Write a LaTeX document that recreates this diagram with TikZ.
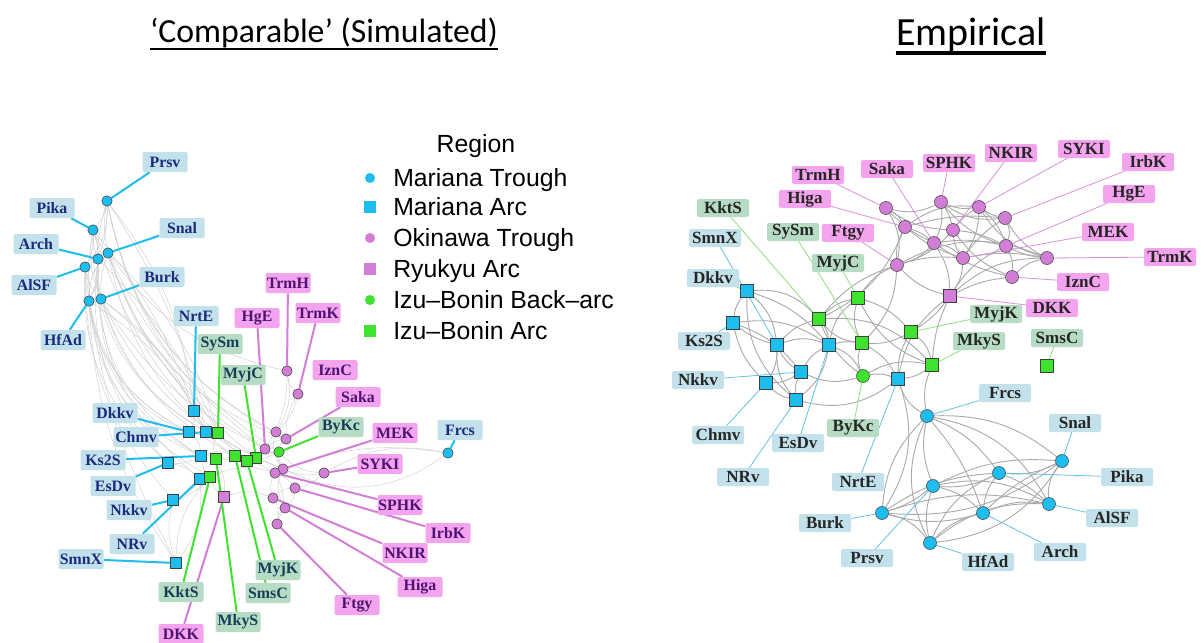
\documentclass[tikz,border=0pt]{standalone}
\usepackage{fontspec}
\setmainfont{Liberation Serif}
\newfontfamily\legendfont{Liberation Sans}
\newfontfamily\titlefont{Carlito}
\usetikzlibrary{backgrounds,calc}

\definecolor{mtcyan}{HTML}{1DBDF0}
\definecolor{okpink}{HTML}{D27ED6}
\definecolor{ibgreen}{HTML}{3FE22F}
\definecolor{mtlabfill}{HTML}{C3E1EB}
\definecolor{oklabfill}{HTML}{F4A4EE}
\definecolor{iblabfill}{HTML}{B6DCC4}
\definecolor{mttext}{HTML}{1B2B7E}
\definecolor{oktext}{HTML}{4D1273}
\definecolor{ibtext}{HTML}{173E57}
\definecolor{emptext}{HTML}{262626}
\definecolor{simedgecol}{HTML}{CFCFCF}
\definecolor{empedgecol}{HTML}{ABABAB}
\definecolor{mtlink}{HTML}{62C3E3}
\definecolor{oklink}{HTML}{D790D9}
\definecolor{iblink}{HTML}{8CE07A}

\tikzset{
  trough/.style={circle, draw=black!75, line width=0.4pt, inner sep=0pt, minimum size=#1},
  trough/.default=7.8pt,
  arcsq/.style={rectangle, draw=black!75, line width=0.4pt, inner sep=0pt, minimum size=#1},
  arcsq/.default=8.25pt,
  lbl/.style={rounded corners=1.5pt, inner sep=0pt, font=\bfseries\fontsize{11.9}{13}\selectfont,
    minimum width=33.75pt, minimum height=15pt},
  mtlbl/.style={lbl, fill=mtlabfill, text=mttext},
  oklbl/.style={lbl, fill=oklabfill, text=oktext},
  iblbl/.style={lbl, fill=iblabfill, text=ibtext},
  elbl/.style={lbl, font=\bfseries\fontsize{12.8}{14}\selectfont, minimum width=39pt,
    minimum height=13.5pt, text=emptext},
  simedge/.style={draw=simedgecol, line width=0.35pt},
  empedge/.style={draw=empedgecol, line width=0.7pt},
  simlink/.style={line width=1.5pt},
  emplink/.style={line width=0.6pt},
  legtext/.style={anchor=west, inner sep=0pt, font=\legendfont\fontsize{18.6}{22}\selectfont,
    text height=13.3pt, text depth=0pt},
}

\begin{document}
\begin{tikzpicture}[x=0.75pt,y=0.75pt,yscale=-1,xscale=1]
\useasboundingbox (0,0) rectangle (1204,643);

% titles
\node[anchor=base, inner sep=0pt, font=\titlefont\fontsize{25.3}{30}\selectfont] (ttlSim) at (324,42) {‘Comparable’ (Simulated)};
\draw[line width=2.2pt] ($(ttlSim.base west)+(0,7)$) -- ($(ttlSim.base east)+(0,7)$);
\node[anchor=base, inner sep=0pt, font=\titlefont\fontsize{30}{34}\selectfont] (ttlEmp) at (971,45) {Empirical};
\draw[line width=2.4pt] ($(ttlEmp.base west)+(0,8)$) -- ($(ttlEmp.base east)+(0,8)$);

% legend
\node[inner sep=0pt, font=\legendfont\fontsize{18.6}{22}\selectfont] (legTitle) at (476,146) {Region};
\node[circle, fill=mtcyan, inner sep=0pt, minimum size=7.5pt] (legMT) at (370,178) {};
\node[rectangle, fill=mtcyan, inner sep=0pt, minimum size=9.5pt] (legMA) at (370,207) {};
\node[circle, fill=okpink, inner sep=0pt, minimum size=7.5pt] (legOT) at (370,238) {};
\node[rectangle, fill=okpink, inner sep=0pt, minimum size=9.5pt] (legRA) at (370,269) {};
\node[circle, fill=ibgreen, inner sep=0pt, minimum size=7.5pt] (legIBB) at (370,300) {};
\node[rectangle, fill=ibgreen, inner sep=0pt, minimum size=9.5pt] (legIBA) at (370,331) {};
\node[legtext] (legMTt) at (393,178) {Mariana Trough};
\node[legtext] (legMAt) at (393,207) {Mariana Arc};
\node[legtext] (legOTt) at (393,238) {Okinawa Trough};
\node[legtext] (legRAt) at (393,269) {Ryukyu Arc};
\node[legtext] (legIBBt) at (393,300) {Izu–Bonin Back–arc};
\node[legtext] (legIBAt) at (393,331) {Izu–Bonin Arc};

% simulated network
\node[trough, fill=mtcyan] (sPrsv) at (107,201) {};
\node[trough, fill=mtcyan] (sPika) at (93,230) {};
\node[trough, fill=mtcyan] (sSnal) at (108,253) {};
\node[trough, fill=mtcyan] (sArch) at (98,259) {};
\node[trough, fill=mtcyan] (sAlSF) at (85,267) {};
\node[trough, fill=mtcyan] (sBurk) at (101,299) {};
\node[trough, fill=mtcyan] (sHfAd) at (89,301) {};
\node[trough, fill=mtcyan] (sFrcs) at (448,453) {};
\node[arcsq, fill=mtcyan] (sNrtE) at (194,411) {};
\node[arcsq, fill=mtcyan] (sDkkv) at (189,432) {};
\node[arcsq, fill=mtcyan] (sChmv) at (206,432) {};
\node[arcsq, fill=mtcyan] (sKs2S) at (201,456) {};
\node[arcsq, fill=mtcyan] (sEsDv) at (168,463) {};
\node[arcsq, fill=mtcyan] (sNRv) at (200,479) {};
\node[arcsq, fill=mtcyan] (sNkkv) at (173,500) {};
\node[arcsq, fill=mtcyan] (sSmnX) at (176,563) {};
\node[arcsq, fill=okpink] (sDKK) at (224,497) {};
\node[arcsq, fill=ibgreen] (sSySm) at (218,433) {};
\node[arcsq, fill=ibgreen] (sMyjC) at (256,458) {};
\node[arcsq, fill=ibgreen] (sKktS) at (210,477) {};
\node[arcsq, fill=ibgreen] (sMkyS) at (216,459) {};
\node[arcsq, fill=ibgreen] (sSmsC) at (235,456) {};
\node[arcsq, fill=ibgreen] (sMyjK) at (247,461) {};
\node[trough, fill=ibgreen] (sByKc) at (279,452) {};
\node[trough, fill=okpink] (sTrmH) at (287,371) {};
\node[trough, fill=okpink] (sTrmK) at (298,394) {};
\node[trough, fill=okpink] (sHgE) at (265,449) {};
\node[trough, fill=okpink] (sIznC) at (276,432) {};
\node[trough, fill=okpink] (sSaka) at (286,439) {};
\node[trough, fill=okpink] (sMEK) at (283,469) {};
\node[trough, fill=okpink] (sSYKI) at (324,473) {};
\node[trough, fill=okpink] (sSPHK) at (275,473) {};
\node[trough, fill=okpink] (sIrbK) at (295,488) {};
\node[trough, fill=okpink] (sNKIR) at (273,498) {};
\node[trough, fill=okpink] (sHiga) at (285,508) {};
\node[trough, fill=okpink] (sFtgy) at (277,524) {};

\node[mtlbl] (sPrsv-l) at (165,162) {Prsv};
\node[mtlbl] (sPika-l) at (52,208) {Pika};
\node[mtlbl] (sSnal-l) at (182,228) {Snal};
\node[mtlbl] (sArch-l) at (36,244) {Arch};
\node[mtlbl] (sAlSF-l) at (34,285) {AlSF};
\node[mtlbl] (sBurk-l) at (162,277) {Burk};
\node[mtlbl] (sHfAd-l) at (63,340) {HfAd};
\node[mtlbl] (sFrcs-l) at (460,430) {Frcs};
\node[mtlbl] (sNrtE-l) at (196,316) {NrtE};
\node[mtlbl] (sDkkv-l) at (115,413) {Dkkv};
\node[mtlbl] (sChmv-l) at (136,437) {Chmv};
\node[mtlbl] (sKs2S-l) at (103,460) {Ks2S};
\node[mtlbl] (sEsDv-l) at (113,486) {EsDv};
\node[mtlbl] (sNRv-l) at (132,544) {NRv};
\node[mtlbl] (sNkkv-l) at (129,510) {Nkkv};
\node[mtlbl] (sSmnX-l) at (81,559) {SmnX};
\node[oklbl] (sDKK-l) at (181,634) {DKK};
\node[iblbl] (sSySm-l) at (220,344) {SySm};
\node[iblbl] (sMyjC-l) at (243,375) {MyjC};
\node[iblbl] (sKktS-l) at (181,592) {KktS};
\node[iblbl] (sMkyS-l) at (238,622) {MkyS};
\node[iblbl] (sSmsC-l) at (268,593) {SmsC};
\node[iblbl] (sMyjK-l) at (278,570) {MyjK};
\node[iblbl] (sByKc-l) at (341,427) {ByKc};
\node[oklbl] (sTrmH-l) at (288,283) {TrmH};
\node[oklbl] (sTrmK-l) at (318,313) {TrmK};
\node[oklbl] (sHgE-l) at (257,318) {HgE};
\node[oklbl] (sIznC-l) at (335,370) {IznC};
\node[oklbl] (sSaka-l) at (358,397) {Saka};
\node[oklbl] (sMEK-l) at (395,433) {MEK};
\node[oklbl] (sSYKI-l) at (380,464) {SYKI};
\node[oklbl] (sSPHK-l) at (400,505) {SPHK};
\node[oklbl] (sIrbK-l) at (448,533) {IrbK};
\node[oklbl] (sNKIR-l) at (405,553) {NKIR};
\node[oklbl] (sHiga-l) at (420,587) {Higa};
\node[oklbl] (sFtgy-l) at (357,605) {Ftgy};

% empirical network
\node[trough=9.75pt, fill=okpink] (eTrmH) at (886,208) {};
\node[trough=9.75pt, fill=okpink] (eSaka) at (934,243) {};
\node[trough=9.75pt, fill=okpink] (eSPHK) at (941,202) {};
\node[trough=9.75pt, fill=okpink] (eHiga) at (905,227) {};
\node[trough=9.75pt, fill=okpink] (eFtgy) at (897,265) {};
\node[trough=9.75pt, fill=okpink] (eNKIR) at (953,230) {};
\node[trough=9.75pt, fill=okpink] (eSYKI) at (979,207) {};
\node[trough=9.75pt, fill=okpink] (eIrbK) at (1005,218) {};
\node[trough=9.75pt, fill=okpink] (eHgE) at (1006,246) {};
\node[trough=9.75pt, fill=okpink] (eMEK) at (963,258) {};
\node[trough=9.75pt, fill=okpink] (eTrmK) at (1047,258) {};
\node[trough=9.75pt, fill=okpink] (eIznC) at (1012,277) {};
\node[arcsq=9.75pt, fill=okpink] (eDKK) at (950,296) {};
\node[arcsq=9.75pt, fill=ibgreen] (eMyjK) at (911,332) {};
\node[arcsq=9.75pt, fill=ibgreen] (eMkyS) at (932,365) {};
\node[arcsq=9.75pt, fill=ibgreen] (eSmsC) at (1047,366) {};
\node[arcsq=9.75pt, fill=ibgreen] (eMyjC) at (858,298) {};
\node[arcsq=9.75pt, fill=ibgreen] (eKktS) at (819,319) {};
\node[arcsq=9.75pt, fill=ibgreen] (eSySm) at (862,343) {};
\node[trough=9.75pt, fill=ibgreen] (eByKc) at (863,376) {};
\node[arcsq=9.75pt, fill=mtcyan] (eDkkv) at (747,291) {};
\node[arcsq=9.75pt, fill=mtcyan] (eKs2S) at (733,323) {};
\node[arcsq=9.75pt, fill=mtcyan] (eSmnX) at (777,345) {};
\node[arcsq=9.75pt, fill=mtcyan] (eEsDv) at (829,345) {};
\node[arcsq=9.75pt, fill=mtcyan] (eNkkv) at (801,372) {};
\node[arcsq=9.75pt, fill=mtcyan] (eChmv) at (766,383) {};
\node[arcsq=9.75pt, fill=mtcyan] (eNRv) at (796,400) {};
\node[arcsq=9.75pt, fill=mtcyan] (eNrtE) at (898,379) {};
\node[trough=9.75pt, fill=mtcyan] (eFrcs) at (927,416) {};
\node[trough=9.75pt, fill=mtcyan] (eSnal) at (1062,461) {};
\node[trough=9.75pt, fill=mtcyan] (ePika) at (999,473) {};
\node[trough=9.75pt, fill=mtcyan] (ePrsv) at (933,486) {};
\node[trough=9.75pt, fill=mtcyan] (eAlSF) at (1049,504) {};
\node[trough=9.75pt, fill=mtcyan] (eArch) at (983,513) {};
\node[trough=9.75pt, fill=mtcyan] (eHfAd) at (930,543) {};
\node[trough=9.75pt, fill=mtcyan] (eBurk) at (882,513) {};

\node[elbl, fill=oklabfill] (eTrmH-l) at (818,175) {TrmH};
\node[elbl, fill=oklabfill] (eSaka-l) at (887,169) {Saka};
\node[elbl, fill=oklabfill] (eSPHK-l) at (949,163) {SPHK};
\node[elbl, fill=oklabfill] (eHiga-l) at (805,199) {Higa};
\node[elbl, fill=oklabfill] (eFtgy-l) at (848,233) {Ftgy};
\node[elbl, fill=oklabfill] (eNKIR-l) at (1011,153) {NKIR};
\node[elbl, fill=oklabfill] (eSYKI-l) at (1084,149) {SYKI};
\node[elbl, fill=oklabfill] (eIrbK-l) at (1148,162) {IrbK};
\node[elbl, fill=oklabfill] (eHgE-l) at (1129,194) {HgE};
\node[elbl, fill=oklabfill] (eMEK-l) at (1108,232) {MEK};
\node[elbl, fill=oklabfill] (eTrmK-l) at (1170,257) {TrmK};
\node[elbl, fill=oklabfill] (eIznC-l) at (1083,282) {IznC};
\node[elbl, fill=oklabfill] (eDKK-l) at (1052,308) {DKK};
\node[elbl, fill=iblabfill] (eMyjK-l) at (996,314) {MyjK};
\node[elbl, fill=iblabfill] (eMkyS-l) at (979,341) {MkyS};
\node[elbl, fill=iblabfill] (eSmsC-l) at (1057,338) {SmsC};
\node[elbl, fill=iblabfill] (eMyjC-l) at (838,263) {MyjC};
\node[elbl, fill=iblabfill] (eKktS-l) at (723,208) {KktS};
\node[elbl, fill=iblabfill] (eSySm-l) at (793,232) {SySm};
\node[elbl, fill=iblabfill] (eByKc-l) at (853,428) {ByKc};
\node[elbl, fill=mtlabfill] (eDkkv-l) at (713,278) {Dkkv};
\node[elbl, fill=mtlabfill] (eKs2S-l) at (704,341) {Ks2S};
\node[elbl, fill=mtlabfill] (eSmnX-l) at (715,238) {SmnX};
\node[elbl, fill=mtlabfill] (eEsDv-l) at (798,443) {EsDv};
\node[elbl, fill=mtlabfill] (eNkkv-l) at (698,380) {Nkkv};
\node[elbl, fill=mtlabfill] (eChmv-l) at (718,435) {Chmv};
\node[elbl, fill=mtlabfill] (eNRv-l) at (743,477) {NRv};
\node[elbl, fill=mtlabfill] (eNrtE-l) at (858,482) {NrtE};
\node[elbl, fill=mtlabfill] (eFrcs-l) at (1005,393) {Frcs};
\node[elbl, fill=mtlabfill] (eSnal-l) at (1075,423) {Snal};
\node[elbl, fill=mtlabfill] (ePika-l) at (1127,477) {Pika};
\node[elbl, fill=mtlabfill] (ePrsv-l) at (867,558) {Prsv};
\node[elbl, fill=mtlabfill] (eAlSF-l) at (1112,518) {AlSF};
\node[elbl, fill=mtlabfill] (eArch-l) at (1060,552) {Arch};
\node[elbl, fill=mtlabfill] (eHfAd-l) at (988,562) {HfAd};
\node[elbl, fill=mtlabfill] (eBurk-l) at (825,523) {Burk};

\begin{pgfonlayer}{background}
% simulated edges
\foreach \a/\b/\c in {Prsv/Pika/-15, Prsv/Snal/10, Prsv/Arch/-10, Prsv/Burk/12, Prsv/AlSF/-20,
  Pika/Arch/10, Pika/AlSF/-15, Pika/HfAd/-20, Pika/Burk/15, Pika/Snal/10, Snal/Arch/-15,
  Snal/Burk/10, Snal/HfAd/20, Arch/AlSF/10, Arch/HfAd/-15, Arch/Burk/10, AlSF/HfAd/-10,
  AlSF/Burk/15, Burk/HfAd/20,
  HfAd/Dkkv/25, HfAd/Chmv/-15, HfAd/Ks2S/30, HfAd/SmnX/15, Burk/NrtE/-15, Burk/SySm/-10,
  Burk/Chmv/20, Burk/HgE/15, Burk/MEK/20, Arch/Ks2S/30, Arch/SySm/-10, Arch/EsDv/25,
  AlSF/EsDv/25, AlSF/Dkkv/30, AlSF/Nkkv/20, Snal/MyjC/15, Snal/HgE/20, Snal/Saka/25,
  Snal/TrmH/20, Pika/NrtE/-10, Pika/Chmv/30, Prsv/Chmv/-10, Prsv/IznC/25, Prsv/HgE/20,
  Pika/MyjK/15, Arch/NRv/25, HfAd/KktS/25, Burk/SmsC/20, Snal/SPHK/25, AlSF/SmnX/10,
  Burk/Dkkv/35, Snal/SySm/-15, Prsv/NrtE/-15, Pika/Ks2S/35, Snal/ByKc/15, Prsv/Saka/25,
  Dkkv/Chmv/20, Chmv/SySm/20, Ks2S/KktS/15, EsDv/Ks2S/15, NRv/KktS/-20, Nkkv/NRv/15,
  SmnX/NRv/20, SmnX/Nkkv/-15, Dkkv/Ks2S/-20, NrtE/Dkkv/-15, NrtE/SySm/20, SySm/MkyS/20,
  MkyS/SmsC/15, SmsC/MyjK/20, MyjK/MyjC/20, MyjC/HgE/20, HgE/ByKc/15, SmsC/ByKc/20,
  MkyS/MEK/-15, KktS/SPHK/-20, Chmv/MyjC/20, SySm/ByKc/25, Ks2S/MkyS/-15, DKK/MkyS/15,
  DKK/KktS/-15, DKK/NKIR/-20, EsDv/NRv/-15, SmnX/KktS/-20, Nkkv/KktS/15, Ks2S/SmsC/-20,
  TrmH/TrmK/20, TrmH/IznC/-20, TrmH/HgE/-15, TrmK/Saka/15, TrmK/IznC/-15, IznC/Saka/20,
  Saka/HgE/15, Saka/ByKc/20, HgE/MEK/-20, MEK/SPHK/20, SPHK/IrbK/-15, IrbK/NKIR/20,
  NKIR/Higa/-20, Higa/Ftgy/20, MEK/SYKI/15, SYKI/IrbK/-15, SPHK/Ftgy/-25, ByKc/MEK/20,
  ByKc/SYKI/20, SPHK/NKIR/20, MEK/Higa/25, IrbK/Higa/-20, NKIR/Ftgy/-20, IznC/MEK/25,
  SYKI/Frcs/-20, Frcs/SPHK/15, Frcs/MEK/-30}
  \draw[simedge] (s\a) to[bend left=\c] (s\b);

% empirical edges
\foreach \a/\b/\c in {TrmH/SPHK/20, TrmH/Higa/-15, TrmH/Saka/10, TrmH/NKIR/15, TrmH/Ftgy/-20,
  SPHK/SYKI/15, SPHK/NKIR/-10, SPHK/IrbK/20, SPHK/Saka/-15, SPHK/HgE/15, SYKI/IrbK/10,
  SYKI/HgE/-15, SYKI/TrmK/20, SYKI/MEK/-15, SYKI/NKIR/10, NKIR/MEK/15, NKIR/HgE/-10,
  NKIR/IznC/15, NKIR/Ftgy/-15, IrbK/TrmK/15, IrbK/HgE/-20, IrbK/MEK/10, HgE/TrmK/10,
  HgE/IznC/-15, MEK/TrmK/-10, MEK/Saka/15, MEK/DKK/-15, TrmK/IznC/15, TrmK/DKK/20,
  IznC/DKK/10, Higa/Saka/-10, Higa/Ftgy/15, Higa/MEK/10, Saka/Ftgy/-15, Saka/IznC/10,
  Saka/DKK/-15, Ftgy/DKK/15, Ftgy/MEK/-10, Higa/IrbK/-10, HgE/DKK/15, Higa/SYKI/-20,
  Ftgy/TrmK/-25, Saka/HgE/-10,
  Ftgy/MyjC/15, DKK/MyjK/-10, DKK/NrtE/20, Ftgy/SySm/-20, DKK/MkyS/10, Higa/KktS/-20,
  Ftgy/KktS/15,
  Dkkv/Ks2S/15, Dkkv/SmnX/-20, Dkkv/KktS/-25, Ks2S/SmnX/10, Ks2S/Chmv/15, Ks2S/Nkkv/-15,
  SmnX/EsDv/-20, SmnX/Nkkv/15, SmnX/NRv/20, SmnX/Chmv/-15, EsDv/KktS/15, EsDv/SySm/-10,
  EsDv/Nkkv/15, EsDv/NRv/-20, EsDv/ByKc/-20, Nkkv/Chmv/-15, Nkkv/NRv/15, Nkkv/ByKc/20,
  Chmv/NRv/15, KktS/MyjC/-15, KktS/SySm/20, KktS/SmnX/15, SySm/MyjC/-20, SySm/ByKc/20,
  SySm/NrtE/-15, SySm/MyjK/15, MyjC/MyjK/-15, MyjC/EsDv/20, MyjK/MkyS/-20, MyjK/NrtE/15,
  MkyS/NrtE/-15, MkyS/ByKc/20, ByKc/NrtE/-15, NRv/NrtE/25, Dkkv/EsDv/-15, KktS/ByKc/15,
  Dkkv/NRv/25, Ks2S/EsDv/-20, KktS/MkyS/-25, MyjC/MkyS/20,
  NrtE/Frcs/20, NrtE/Burk/-25, MkyS/Frcs/15,
  Frcs/Snal/-20, Frcs/Prsv/15, Frcs/Burk/20, Frcs/HfAd/25, Frcs/Arch/-10, Frcs/AlSF/-25,
  Frcs/Pika/-15, Snal/Pika/-15, Snal/AlSF/20, Snal/Prsv/15, Snal/Arch/10, Snal/Burk/-20,
  Snal/HfAd/-25, Pika/Prsv/-15, Pika/Arch/15, Pika/HfAd/20, Pika/AlSF/-10, Pika/Burk/15,
  Prsv/Burk/-10, Prsv/HfAd/15, Prsv/Arch/-15, Prsv/AlSF/-20, Burk/HfAd/-20, Burk/Arch/15,
  Burk/AlSF/-15, Arch/HfAd/15, Arch/AlSF/-15, AlSF/HfAd/20}
  \draw[empedge] (e\a) to[bend left=\c] (e\b);

% label links
\foreach \nm in {Prsv,Pika,Snal,Arch,AlSF,Burk,HfAd,Frcs,NrtE,Dkkv,Chmv,Ks2S,EsDv,NRv,Nkkv,SmnX}
  \draw[simlink, mtcyan] (s\nm-l) -- (s\nm);
\foreach \nm in {DKK,TrmH,TrmK,HgE,Saka,MEK,SYKI,SPHK,IrbK,NKIR,Higa,Ftgy}
  \draw[simlink, okpink] (s\nm-l) -- (s\nm);
\foreach \nm in {SySm,MyjC,KktS,MkyS,SmsC,MyjK,ByKc}
  \draw[simlink, ibgreen] (s\nm-l) -- (s\nm);
\foreach \nm in {Prsv,Pika,Snal,Arch,AlSF,Burk,HfAd,Frcs,NrtE,Dkkv,Chmv,Ks2S,EsDv,NRv,Nkkv,SmnX}
  \draw[emplink, mtlink] (e\nm-l) -- (e\nm);
\foreach \nm in {DKK,TrmH,TrmK,HgE,IznC,Saka,MEK,SYKI,SPHK,IrbK,NKIR,Higa,Ftgy}
  \draw[emplink, oklink] (e\nm-l) -- (e\nm);
\foreach \nm in {SySm,MyjC,KktS,MkyS,SmsC,MyjK,ByKc}
  \draw[emplink, iblink] (e\nm-l) -- (e\nm);
\end{pgfonlayer}
\end{tikzpicture}
\end{document}
